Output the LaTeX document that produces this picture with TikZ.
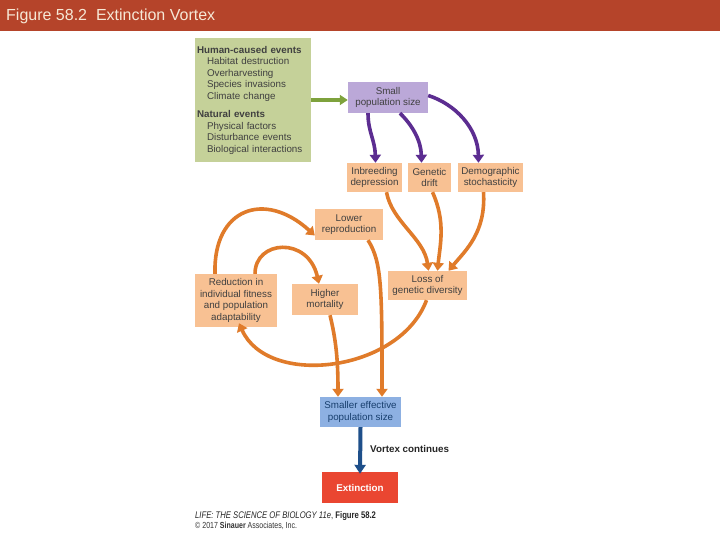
\documentclass[tikz,border=0pt]{standalone}
\usepackage{fontspec}
\setmainfont{Liberation Sans}
\newfontfamily\condfont[FakeStretch=0.8]{Liberation Sans}
\usetikzlibrary{arrows.meta}
\definecolor{hdr}{HTML}{B5442A}
\definecolor{hdrtxt}{HTML}{F6E8D6}
\definecolor{gbox}{HTML}{C5D199}
\definecolor{pbox}{HTML}{BBA8D8}
\definecolor{obox}{HTML}{F8C193}
\definecolor{bbox}{HTML}{8DB0E2}
\definecolor{rbox}{HTML}{EA4631}
\definecolor{oarr}{HTML}{E07B2A}
\definecolor{parr}{HTML}{5C2D91}
\definecolor{barr}{HTML}{1E4F8A}
\definecolor{garr}{HTML}{7EA23C}
\definecolor{txt}{HTML}{404040}
\tikzset{
  bx/.style={draw=none, inner sep=1pt, align=center, text=txt, font=\fontsize{9.8}{11.5}\selectfont},
  obx/.style={bx, fill=obox},
  oa/.style={draw=oarr, line width=3.6pt, -{Triangle[width=11pt,length=8pt]}},
  pa/.style={draw=parr, line width=3.6pt, -{Triangle[width=11pt,length=8pt]}},
}
\begin{document}
\begin{tikzpicture}[x=1pt,y=-1pt]
\useasboundingbox (0,0) rectangle (720,540);
\fill[white] (0,0) rectangle (720,540);
% header
\fill[hdr] (0,0) rectangle (720,31);
\node[anchor=base west, text=hdrtxt, font=\fontsize{16}{18}\selectfont, inner sep=0pt] (title) at (6,21) {Figure 58.2\ \ Extinction\ Vortex};

% boxes
\node[bx, fill=gbox, minimum width=116pt, minimum height=124pt, text width=112pt, align=left, inner sep=2pt] (green) at (253,100) {%
\textbf{Human-caused events}\\
\hspace*{10pt}Habitat destruction\\
\hspace*{10pt}Overharvesting\\
\hspace*{10pt}Species invasions\\
\hspace*{10pt}Climate change\\[7pt]
\textbf{Natural events}\\
\hspace*{10pt}Physical factors\\
\hspace*{10pt}Disturbance events\\
\hspace*{10pt}Biological interactions};
\node[bx, fill=pbox, minimum width=80pt, minimum height=31pt] (small) at (388,97.5) {Small\\population size};
\node[obx, minimum width=55pt, minimum height=29pt] (inb) at (374.5,177.5) {Inbreeding\\depression};
\node[obx, minimum width=43pt, minimum height=29pt] (gen) at (429.5,177.5) {Genetic\\drift};
\node[obx, minimum width=65pt, minimum height=29pt] (dem) at (490.5,177.5) {Demographic\\stochasticity};
\node[obx, minimum width=68pt, minimum height=31pt] (low) at (349,224.5) {Lower\\reproduction};
\node[obx, minimum width=79pt, minimum height=29pt] (loss) at (427.5,285.5) {Loss of\\genetic diversity};
\node[obx, minimum width=82pt, minimum height=53pt] (red) at (236,300.5) {Reduction in\\individual fitness\\and population\\adaptability};
\node[obx, minimum width=66pt, minimum height=31pt] (high) at (325,299.5) {Higher\\mortality};
\node[bx, fill=bbox, text=barr!80!black, minimum width=81pt, minimum height=30pt] (smaller) at (360.5,412) {Smaller effective\\population size};
\node[bx, fill=rbox, text=white, font=\bfseries\fontsize{9.8}{11.5}\selectfont, minimum width=76pt, minimum height=31pt] (ext) at (360,487.5) {Extinction};

% green arrow
\draw[draw=garr, line width=3.6pt, -{Triangle[width=10pt,length=8pt]}] (green.east) -- (green.east -| small.west);

% purple arrows
\draw[pa] ([xshift=-20pt]small.south) .. controls (368,132) and (375,140) .. ([xshift=1pt]inb.north);
\draw[pa] ([xshift=12pt]small.south) .. controls (412,125) and (421,140) .. ([xshift=-8pt]gen.north);
\draw[pa] ([yshift=2pt]small.east) .. controls (455,104) and (478,128) .. ([xshift=-12pt]dem.north);

% orange arrows into loss
\draw[oa] ([xshift=12pt]inb.south) .. controls (392,222) and (424,238) .. ([xshift=1pt]loss.north);
\draw[oa] ([xshift=3pt]gen.south) .. controls (446,222) and (440,245) .. ([xshift=10pt]loss.north);
\draw[oa] ([xshift=-7pt]dem.south) .. controls (486,232) and (466,250) .. ([xshift=21pt]loss.north);

% big arc from loss to reduction
\draw[oa] ([xshift=-1pt]loss.south) .. controls (400,372) and (268,388) .. ([xshift=3pt,yshift=4pt]red.south);

% lower reproduction down to smaller
\draw[oa] ([xshift=19pt]low.south) .. controls (382,262) and (382,290) .. ([xshift=21.5pt]smaller.north);
% higher mortality down to smaller
\draw[oa] ([xshift=5pt]high.south) .. controls (336,340) and (338,360) .. ([xshift=-22.5pt]smaller.north);

% reduction loops
\draw[oa] ([xshift=-21pt]red.north) .. controls (213,208) and (265,190) .. ([yshift=-11pt]low.west);
\draw[oa] ([xshift=19pt]red.north) .. controls (255,240) and (308,236) .. ([xshift=-6pt]high.north);

% vortex continues
\draw[draw=barr, line width=4pt, -{Triangle[width=11pt,length=9pt]}] (smaller.south) -- ([yshift=-2pt]ext.north);
\node[anchor=west, font=\bfseries\fontsize{9.8}{11}\selectfont, text=black!85, inner sep=0pt] (vc) at (370,449) {Vortex continues};

% footer
\node[anchor=base west, inner sep=0pt, font=\condfont\fontsize{9.6}{10}\selectfont, text=black!85] (ft1) at (195,518) {\textit{LIFE: THE SCIENCE OF BIOLOGY 11e}, \textbf{Figure 58.2}};
\node[anchor=base west, inner sep=0pt, font=\condfont\fontsize{8.8}{9}\selectfont, text=black!80] (ft2) at (195,528.5) {\textcopyright\ 2017 \textbf{Sinauer} Associates, Inc.};
\end{tikzpicture}
\end{document}
